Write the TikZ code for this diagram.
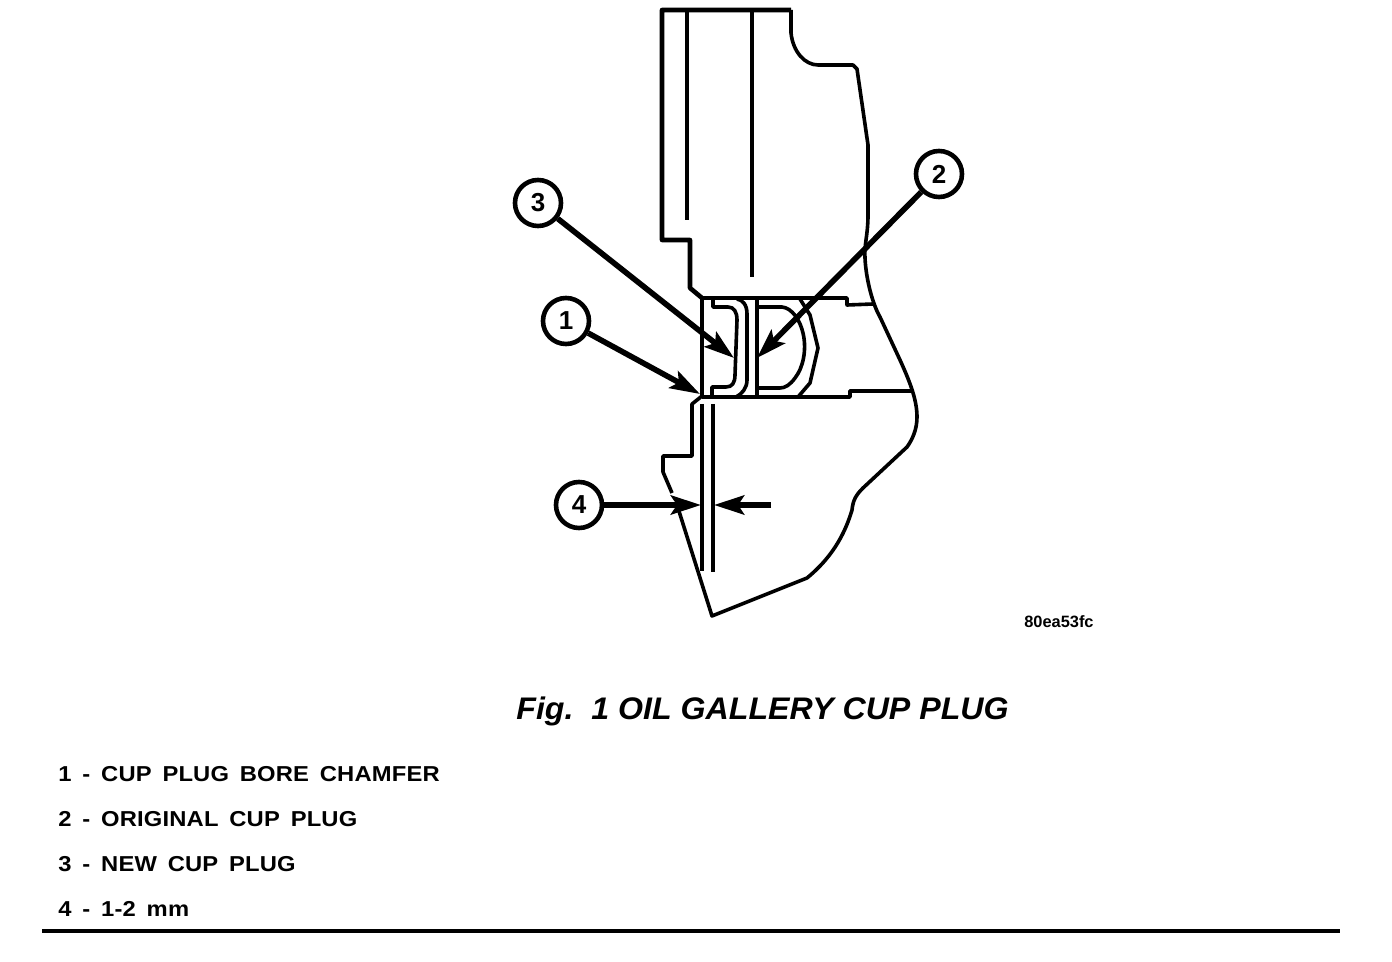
\documentclass[tikz,border=0pt]{standalone}
\usepackage{fontspec}
\setmainfont{Liberation Sans}
\newfontfamily\legendfont{Liberation Sans}[FakeStretch=1.1,LetterSpace=0.8,WordSpace=1.6]
\newfontfamily\titlefont{Liberation Sans}[FakeStretch=1.03]
\usetikzlibrary{arrows.meta}
\tikzset{
 part/.style={line width=1.8pt,line join=round},
 callout/.style={circle,draw,line width=2.3pt,minimum size=23pt,inner sep=0pt,font=\fontsize{13}{13}\selectfont\bfseries},
 pointer/.style={line width=2.8pt,-{Stealth[length=15pt,width=9.5pt,inset=3pt]}},
 legend/.style={anchor = base west,inner sep=0pt,font=\fontsize{10.8}{12}\legendfont\bfseries},
}
\begin{document}
\begin{tikzpicture}[x=0.5pt,y=-0.5pt]
 \useasboundingbox (0,0) rectangle (1392,962);
 % block outline
 \draw[part,line width=2.3pt] (702,298) -- (690,288) -- (690,240) -- (662,240) -- (662,10) -- (791,10);
 \draw[part] (791,10) -- (791,33) .. controls (793,52) and (805,65) .. (818,65) -- (853,65) -- (857,69) -- (868,145) -- (868,215) .. controls (868,235) and (864,245) .. (865,258) .. controls (866,280) and (873,305) .. (880,317) -- (900,360) .. controls (910,382) and (917,400) .. (917,417) .. controls (917,430) and (912,440) .. (907,447) -- (863,488) .. controls (856,495) and (853,500) .. (852,510) .. controls (846,530) and (835,555) .. (807,578) -- (712,616) -- (678,508);
 \draw[part] (672,493) -- (663,472) -- (663,456) -- (692,456) -- (692,404) -- (702,396);
 %
 \draw[part] (687,10) -- (687,220);
 \draw[part] (752,10) -- (752,277);
 \draw[part] (702,404) -- (702,571);
 \draw[part] (713,404) -- (713,572);
 % bore
 \draw[part] (702,298) -- (847,298) -- (847,305) -- (873,304);
 \draw[part] (702,397) -- (850,397) -- (850,391) -- (912,391);
 \draw[part] (702,298) -- (702,397);
 % new plug
 \draw[part] (713,299) -- (713,307) -- (728,307) .. controls (734,307) and (737,312) .. (737,320) -- (735,375) .. controls (735,383) and (732,387) .. (726,387) -- (712,387) -- (712,397);
 \draw[part] (737,299) .. controls (743,300) and (747,305) .. (747,314) -- (747,380) .. controls (747,388) and (742,394) .. (736,397);
 % original plug
 \draw[line width=2.4pt] (757,298) -- (757,397);
 \draw[part] (757,307) -- (782,307) .. controls (792,308) and (800,320) .. (803,333) .. controls (807,350) and (803,368) .. (795,378) .. controls (790,385) and (785,388) .. (780,388) -- (757,388);
 \draw[part] (800,299) -- (810,315) -- (818,348) -- (810,383) -- (798,397);
 % callouts
 \node[callout] (n3) at (538,203) {3};
 \node[callout] (n2) at (939,174) {2};
 \node[callout] (n1) at (566,321) {1};
 \node[callout] (n4) at (579,505) {4};
 %
 \coordinate (t3) at (734,358);
 \coordinate (t2) at (757,358);
 \coordinate (t1) at (700,394);
 \coordinate (t4) at (701,505);
 \coordinate (e4) at (771,505);
 \coordinate (s4) at (714,505);
 %
 \draw[pointer] (n3) -- (t3);
 \draw[pointer] (n2) -- (t2);
 \draw[pointer] (n1) -- (t1);
 \draw[pointer] (n4) -- (t4);
 \draw[pointer] (e4) -- (s4);
 % texts
 \node[anchor = base east,inner sep=0pt,font=\fontsize{8.2}{9}\selectfont\bfseries] (code) at (1094,627) {80ea53fc};
 \node[anchor = base west,inner sep=0pt,font=\fontsize{15.6}{18}\titlefont\bfseries\itshape] (title) at (516,719) {Fig.\ \ 1 OIL GALLERY CUP PLUG};
 %
 \node[legend] (item1) at (58,781) {1 - CUP PLUG BORE CHAMFER};
 \node[legend] (item2) at (58,826) {2 - ORIGINAL CUP PLUG};
 \node[legend] (item3) at (58,871) {3 - NEW CUP PLUG};
 \node[legend] (item4) at (58,916) {4 - 1-2 mm};
 %
 \draw[line width=2pt] (42,931) -- (1340,931);
\end{tikzpicture}
\end{document}
